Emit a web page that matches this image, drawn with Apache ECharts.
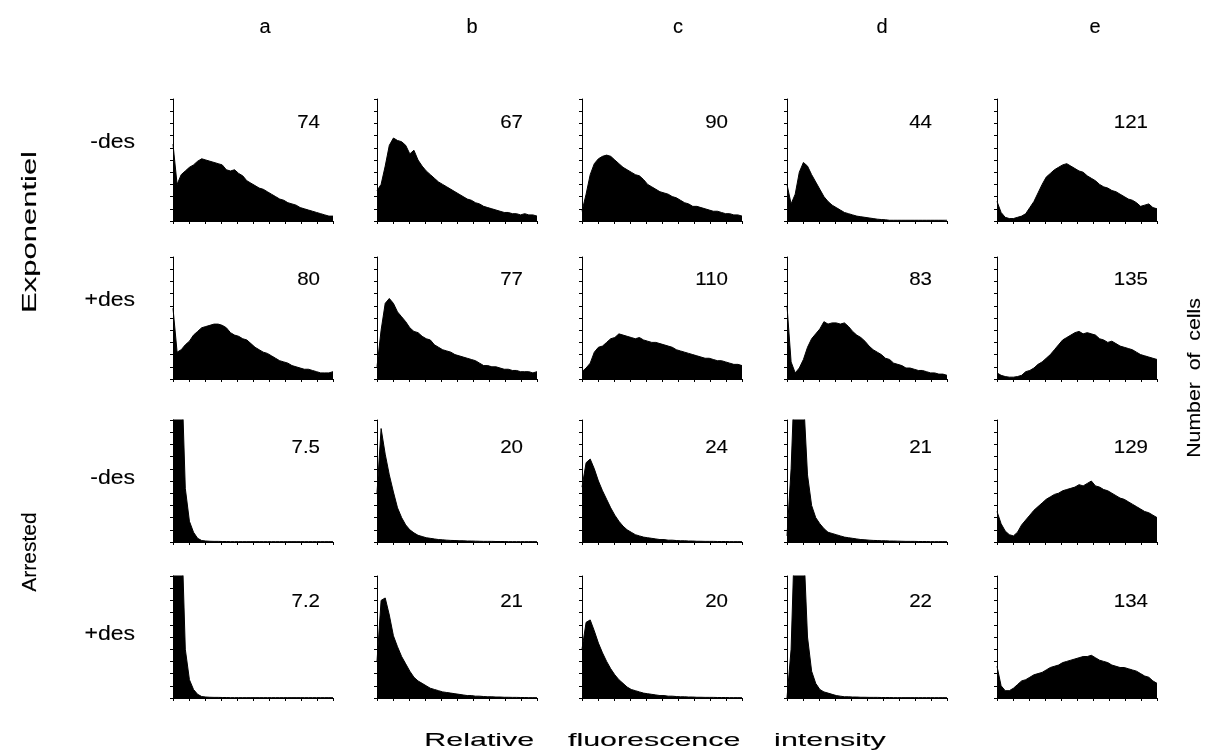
<!DOCTYPE html>
<html><head><meta charset="utf-8">
<script src="https://cdn.jsdelivr.net/npm/echarts/dist/echarts.min.js"></script>
<style>html,body{margin:0;padding:0;background:#fff}#chart{width:1209px;height:754px}</style>
</head><body><div id="chart"></div>
<script>
// ---------- data (heights in % of each panel's y-axis, 40 channels) ----------
const columnLetters = ['a', 'b', 'c', 'd', 'e'];
const rowLabels = ['-des', '+des', '-des', '+des'];
const groupLabels = ['Exponentiel', 'Arrested'];
const xTitle = 'Relative    fluorescence    intensity';
const yTitle = 'Number  of  cells';

const numbersExpMinus = ['74', '67', '90', '44', '121'];
const numbersExpPlus = ['80', '77', '110', '83', '135'];
const numbersArrMinus = ['7.5', '20', '24', '21', '129'];
const numbersArrPlus = ['7.2', '21', '20', '22', '134'];

const expMinus_a = [63,30,38,41,44,46,49,51,50,49,48,47,46,42,41,42,39,37,33,31,29,27,26,24,22,20,18,17,15,14,13,11,10,9,8,7,6,5,4,4];
const expMinus_b = [25,30,45,62,68,66,65,62,55,58,50,45,41,38,35,32,30,28,26,24,22,20,18,17,15,14,12,11,10,9,8,7,7,6,6,5,6,5,5,4];
const expMinus_c = [8,22,38,47,51,53,54,53,50,47,44,42,40,38,37,34,30,28,26,24,23,22,20,19,17,15,14,12,12,11,10,9,8,8,7,6,6,5,5,4];
const expMinus_d = [30,14,22,40,48,45,38,32,26,20,16,13,11,9,7,6,5,4,3.5,3,2.5,2,1.5,1.2,1,0.6,0.6,0.6,0.6,0.6,0.6,0.6,0.6,0.6,0.6,0.6,0.6,0.6,0.6,0.6];
const expMinus_e = [16,7,3,2,2,3,4,6,11,16,23,30,36,39,42,44,46,47,45,43,41,40,37,35,33,30,28,27,25,24,22,20,18,17,15,12,13,14,11,10];

const expPlus_a = [58,22,24,28,31,36,39,42,43,44,45,45,44,42,38,36,35,33,32,29,26,24,22,21,19,17,15,14,13,11,10,9,8,8,7,6,5,5,5,6];
const expPlus_b = [10,40,62,66,62,55,51,47,42,39,38,35,33,32,28,26,24,23,22,20,19,18,17,16,15,13,11,11,10,10,9,8,8,7,7,6,6,6,5,6];
const expPlus_c = [6,9,13,22,26,27,30,33,34,37,36,35,34,33,34,32,31,30,30,29,28,27,26,24,23,22,21,20,19,18,17,17,16,15,15,14,13,12,12,11];
const expPlus_d = [60,14,5,9,16,26,33,37,41,47,45,46,46,45,46,43,39,36,34,31,27,24,22,20,17,16,13,12,11,9,9,8,7,7,6,5,5,4,4,3];
const expPlus_e = [5,3,2,1.5,1.5,2,3,6,7,9,12,14,17,20,24,28,32,34,36,38,39,37,38,37,36,33,32,30,31,29,27,26,25,24,22,20,19,18,17,16];

const arrMinus_a = [150,150,150,44,17,8,3,1.2,0.8,0.6,0.5,0.5,0.4,0.4,0.3,0.3,0.3,0.3,0.3,0.3,0.3,0.3,0.3,0.3,0.3,0.3,0.3,0.3,0.3,0.3,0.3,0.3,0.3,0.3,0.3,0.3,0.3,0.3,0.3,0.3];
const arrMinus_b = [40,93,72,55,41,28,20,14,10,7.5,5.5,4.5,3.5,3,2.5,2,1.8,1.5,1.3,1.2,1,1,0.8,0.8,0.7,0.6,0.5,0.5,0.5,0.4,0.4,0.4,0.3,0.3,0.3,0.3,0.3,0.3,0.3,0.3];
const arrMinus_c = [45,65,68,60,50,42,35,28,22,17,13,10,8,6,5,4,3.5,3,2.5,2,2,1.5,1.5,1.2,1,1,0.8,0.8,0.6,0.6,0.5,0.5,0.5,0.4,0.4,0.4,0.3,0.3,0.3,0.3];
const arrMinus_d = [5,60,150,150,120,55,30,20,15,11,8,7,6,5,4,3.5,3,2.5,2,1.8,1.5,1.3,1.2,1,1,0.8,0.8,0.7,0.6,0.5,0.5,0.5,0.4,0.4,0.4,0.3,0.3,0.3,0.3,0.3];
const arrMinus_e = [25,15,9,6,5,8,14,18,22,26,29,32,35,37,39,40,42,43,44,45,47,46,48,50,46,45,43,42,40,38,36,35,33,31,29,27,25,24,22,20];

const arrPlus_a = [120,150,150,40,15,7,3,1.2,0.8,0.6,0.5,0.5,0.4,0.4,0.3,0.3,0.3,0.3,0.3,0.3,0.3,0.3,0.3,0.3,0.3,0.3,0.3,0.3,0.3,0.3,0.3,0.3,0.3,0.3,0.3,0.3,0.3,0.3,0.3,0.3];
const arrPlus_b = [30,80,82,68,51,42,34,28,22,17,14,12,10,8,7,6,5,4.5,4,3.5,3,2.5,2,2,1.5,1.5,1.2,1,1,0.8,0.8,0.6,0.6,0.5,0.5,0.4,0.4,0.3,0.3,0.3];
const arrPlus_c = [40,62,64,55,45,37,30,24,19,15,12,9,7,6,5,4,3.5,3,2.5,2,2,1.5,1.5,1.2,1,1,0.8,0.8,0.6,0.6,0.5,0.5,0.5,0.4,0.4,0.4,0.3,0.3,0.3,0.3];
const arrPlus_d = [0,40,150,150,130,50,22,12,7,5,4,3,2,1.5,1,1,0.8,0.8,0.6,0.6,0.5,0.5,0.5,0.4,0.4,0.4,0.3,0.3,0.3,0.3,0.3,0.3,0.3,0.3,0.3,0.3,0.3,0.3,0.3,0.3];
const arrPlus_e = [26,10,6,6,8,11,14,15,17,19,20,21,23,25,26,27,29,30,31,32,33,34,34,35,33,31,30,29,27,26,25,25,24,23,22,20,18,17,14,12];

// ---------- layout ----------
const rows = [
  [expMinus_a, expMinus_b, expMinus_c, expMinus_d, expMinus_e],
  [expPlus_a, expPlus_b, expPlus_c, expPlus_d, expPlus_e],
  [arrMinus_a, arrMinus_b, arrMinus_c, arrMinus_d, arrMinus_e],
  [arrPlus_a, arrPlus_b, arrPlus_c, arrPlus_d, arrPlus_e]
];
const rowNumbers = [numbersExpMinus, numbersExpPlus, numbersArrMinus, numbersArrPlus];

const gridLeft = [173, 377, 582, 787, 997];
const gridTop = [99, 257, 420, 576];
const gridW = 160, gridH = 122;
const FONT = '"Liberation Sans", Arial, Helvetica, sans-serif';

const grid = [], xAxis = [], yAxis = [], series = [], graphic = [];
let k = 0;
rows.forEach((row, r) => {
  row.forEach((vals, c) => {
    const n = vals.length;
    grid.push({left: gridLeft[c], top: gridTop[r], width: gridW, height: gridH, containLabel: false});
    xAxis.push({
      type: 'value', gridIndex: k, min: 0, max: 100, interval: 10,
      axisLine: {show: true, onZero: false, lineStyle: {color: '#000', width: 1}},
      axisTick: {show: true, length: 3, lineStyle: {color: '#000', width: 1}},
      axisLabel: {show: false}, splitLine: {show: false}
    });
    yAxis.push({
      type: 'value', gridIndex: k, min: 0, max: 100, interval: 10,
      axisLine: {show: true, onZero: false, lineStyle: {color: '#000', width: 1}},
      axisTick: {show: true, length: 3, lineStyle: {color: '#000', width: 1}},
      axisLabel: {show: false}, splitLine: {show: false}
    });
    series.push({
      type: 'line', xAxisIndex: k, yAxisIndex: k,
      // channel index -> relative intensity (0..100 across the axis)
      data: vals.map((v, i) => [i * 100 / (n - 1), v]),
      showSymbol: false, symbol: 'none', clip: true, silent: true,
      lineStyle: {color: '#000', width: 1},
      areaStyle: {color: '#000', opacity: 1}
    });
    k++;
  });
});

function txt(text, x, y, opts) {
  opts = opts || {};
  graphic.push({
    type: 'text', x: x, y: y, rotation: opts.rotation || 0,
    scaleX: opts.scaleX || 1, scaleY: 1, silent: true,
    style: {
      text: text, fill: '#000', font: (opts.size || 19) + 'px ' + FONT,
      stroke: '#000', lineWidth: 0.12,
      textAlign: opts.align || 'center', textVerticalAlign: 'middle',
      align: opts.align || 'center', verticalAlign: 'middle'
    }
  });
}

const letterX = [265, 472, 678, 882, 1095];
columnLetters.forEach((l, i) => txt(l, letterX[i], 27, {size: 20}));
const rowLabelY = [142, 300, 478, 634];
rowLabels.forEach((l, i) => txt(l, 135, rowLabelY[i], {size: 20, align: 'right', scaleX: 1.15}));
txt(groupLabels[0], 30, 232, {size: 20, rotation: Math.PI / 2, scaleX: 1.55});
txt(groupLabels[1], 30, 552, {size: 20, rotation: Math.PI / 2, scaleX: 1.05});
txt(yTitle, 1195, 378, {size: 19, rotation: Math.PI / 2, scaleX: 1.12});
txt(xTitle, 655, 741, {size: 19, scaleX: 1.6});

const numRight = [320, 523, 728, 932, 1148];
const numY = [123, 280, 448, 602];
rowNumbers.forEach((nums, r) => nums.forEach((n, c) =>
  txt(n, numRight[c], numY[r], {size: 19, align: 'right', scaleX: 1.08})));

const chart = echarts.init(document.getElementById('chart'), null, {renderer: 'canvas'});
chart.setOption({
  animation: false, backgroundColor: '#fff',
  grid, xAxis, yAxis, series, graphic
});
</script></body></html>
